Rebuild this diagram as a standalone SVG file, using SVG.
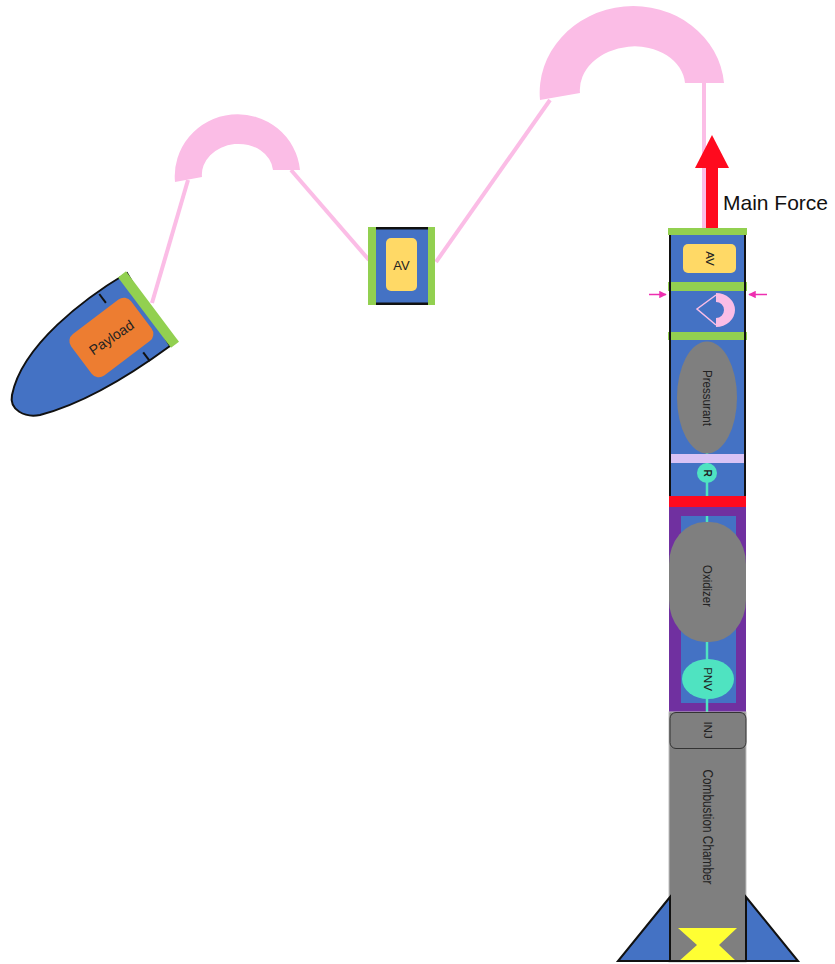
<svg xmlns="http://www.w3.org/2000/svg" width="835" height="964" viewBox="0 0 835 964">
  <style>
    .blue { fill: #4472C4; }
    .green { fill: #92D050; }
    .pink { fill: #FBBDE6; }
    .grey { fill: #7F7F7F; }
    .shroud { stroke: #FBBDE6; stroke-width: 4; fill: none; }
    .edge { stroke: #111; stroke-width: 2; }
    .lbl { font-family: "Liberation Sans", Arial, sans-serif; fill: #222; text-anchor: middle; }
  </style>
  <defs>
    <marker id="pinch" viewBox="0 0 10 10" refX="9" refY="5" markerWidth="5" markerHeight="5" orient="auto">
      <path d="M0,0 L10,5 L0,10 Z" fill="#EE2FB0"/>
    </marker>
  </defs>

  <rect width="835" height="964" fill="#fff"/>

  <!-- shroud lines between chutes and modules -->
  <g id="connectors">
    <line class="shroud" x1="188" y1="180" x2="152" y2="303"/>
    <line class="shroud" x1="291" y1="170" x2="369" y2="260"/>
    <line class="shroud" x1="550" y1="100" x2="436" y2="262"/>
    <line class="shroud" x1="704" y1="83" x2="704" y2="229"/>
  </g>

  <!-- drogue chute -->
  <g id="drogue-chute">
    <path class="pink" d="M175,182 A62,61 -5 0 1 300,170 L273,170 A35,29 -5 0 0 202,177 Z"/>
  </g>

  <!-- main chute -->
  <g id="main-chute">
    <path class="pink" d="M540,100 A92,85 -5 0 1 724,83 L685,83 A52,41 -5 0 0 580,93 Z"/>
  </g>

  <!-- nose cone with payload -->
  <g id="payload-section">
    <path class="blue edge" d="M127,273 C85,298 22,345 12,395 C9,410 25,418 40,415 C90,402 140,368 170,346 Z"/>
    <g transform="translate(152.5,306.5) rotate(-37)">
      <line class="edge" x1="-35" y1="-42" x2="-35" y2="-31"/>
      <line class="edge" x1="-35" y1="42" x2="-35" y2="31"/>
      <rect x="-89" y="-26" width="75" height="52" rx="9" fill="#ED7D31"/>
      <rect class="green" x="-10" y="-44" width="10" height="88"/>
      <text class="lbl" x="-51.5" y="5" font-size="14" transform="rotate(3,-51.5,0)">Payload</text>
    </g>
  </g>

  <!-- avionics bay on its own chute -->
  <g id="av-bay">
    <rect class="blue" x="376" y="227" width="52" height="78"/>
    <rect fill="#111" x="376" y="227" width="52" height="2.5"/>
    <rect fill="#111" x="376" y="302.5" width="52" height="2.5"/>
    <rect class="green" x="368" y="227" width="8" height="78"/>
    <rect class="green" x="428" y="227" width="7" height="78"/>
    <rect x="386" y="238" width="31" height="53" rx="5" fill="#FFD966"/>
    <text class="lbl" x="401.5" y="269.5" font-size="13">AV</text>
  </g>

  <!-- main force arrow -->
  <g id="main-force">
    <rect x="706" y="165" width="12" height="64" fill="#FF0A1E"/>
    <polygon points="695,168 712,135 729,168" fill="#FF0A1E"/>
    <text x="723" y="210" font-family="Liberation Sans, Arial, sans-serif" font-size="21" fill="#111">Main Force</text>
  </g>

  <!-- rocket body -->
  <g id="rocket-av">
    <rect class="blue" x="669" y="235" width="77" height="47"/>
    <rect class="green" x="668" y="228" width="79" height="7"/>
    <rect x="683" y="244" width="53" height="29" rx="5" fill="#FFD966"/>
    <text class="lbl" font-size="11.5" transform="translate(706,258.5) rotate(90)">AV</text>
  </g>

  <g id="rocket-chute-bay">
    <rect class="blue" x="669" y="291" width="77" height="41"/>
    <rect class="green" x="668" y="282" width="79" height="9"/>
    <rect class="green" x="668" y="332" width="79" height="8"/>
    <path class="pink" d="M716,293 A19,17 0 0 1 716,327 L716,318 A8,8 0 0 0 716,302 Z"/>
    <polyline points="716,295 697,309 716,325" fill="none" stroke="#FBBDE6" stroke-width="1.5"/>
    <line x1="649" y1="294.5" x2="666" y2="294.5" stroke="#EE2FB0" stroke-width="1.5" marker-end="url(#pinch)"/>
    <line x1="767" y1="294.5" x2="749" y2="294.5" stroke="#EE2FB0" stroke-width="1.5" marker-end="url(#pinch)"/>
  </g>

  <g id="pressurant-tank">
    <rect class="blue" x="669" y="340" width="77" height="156"/>
    <line x1="707" y1="450" x2="707" y2="712" stroke="#4FE3C1" stroke-width="2.5"/>
    <ellipse class="grey" cx="707" cy="397.5" rx="30" ry="56"/>
    <rect x="669" y="454" width="77" height="9" fill="#D9C3F5"/>
    <text class="lbl" font-size="12" textLength="56" lengthAdjust="spacingAndGlyphs" transform="translate(703,398) rotate(90)">Pressurant</text>
  </g>

  <g id="regulator">
    <circle cx="707" cy="473" r="10" fill="#4FE3C1"/>
    <text class="lbl" font-size="10" font-weight="bold" transform="translate(703.5,473) rotate(90)">R</text>
  </g>

  <g id="bulkhead">
    <rect x="669" y="496" width="77" height="11" fill="#FF0A1E"/>
  </g>

  <!-- side walls of the upper airframe -->
  <g id="airframe-walls">
    <line class="edge" x1="670" y1="235" x2="670" y2="496"/>
    <line class="edge" x1="745" y1="235" x2="745" y2="496"/>
  </g>

  <g id="oxidizer-tank">
    <rect x="669" y="507" width="77" height="205" fill="#7030A0"/>
    <rect class="blue" x="681" y="516" width="55" height="187"/>
    <line x1="707" y1="516" x2="707" y2="712" stroke="#4FE3C1" stroke-width="2.5"/>
    <rect class="grey" x="669" y="522" width="77" height="120" rx="36" ry="42"/>
    <text class="lbl" font-size="12" textLength="42" lengthAdjust="spacingAndGlyphs" transform="translate(703,586) rotate(90)">Oxidizer</text>
  </g>

  <g id="pnv">
    <ellipse cx="708" cy="679" rx="26" ry="20" fill="#4FE3C1"/>
    <text class="lbl" font-size="11.5" transform="translate(704,679) rotate(90)">PNV</text>
  </g>

  <g id="combustion-chamber">
    <rect class="grey" x="669" y="712" width="77" height="250" stroke="#BFBFBF" stroke-width="1"/>
    <text class="lbl" font-size="14" textLength="115" lengthAdjust="spacingAndGlyphs" transform="translate(703,827) rotate(90)">Combustion Chamber</text>
  </g>

  <g id="injector">
    <rect class="grey" x="670" y="712.5" width="76" height="36" rx="6" stroke="#333" stroke-width="1"/>
    <text class="lbl" font-size="11.5" transform="translate(704,730) rotate(90)">INJ</text>
  </g>

  <g id="nozzle">
    <polygon points="678,928 737,928 719,945 737,962 678,962 697,945" fill="#FFFF33"/>
  </g>

  <g id="fins">
    <polygon class="blue edge" points="670,897 618,961 670,961"/>
    <polygon class="blue edge" points="746,897 798,961 746,961"/>
    <line class="edge" x1="670" y1="961" x2="746" y2="961"/>
  </g>
</svg>
